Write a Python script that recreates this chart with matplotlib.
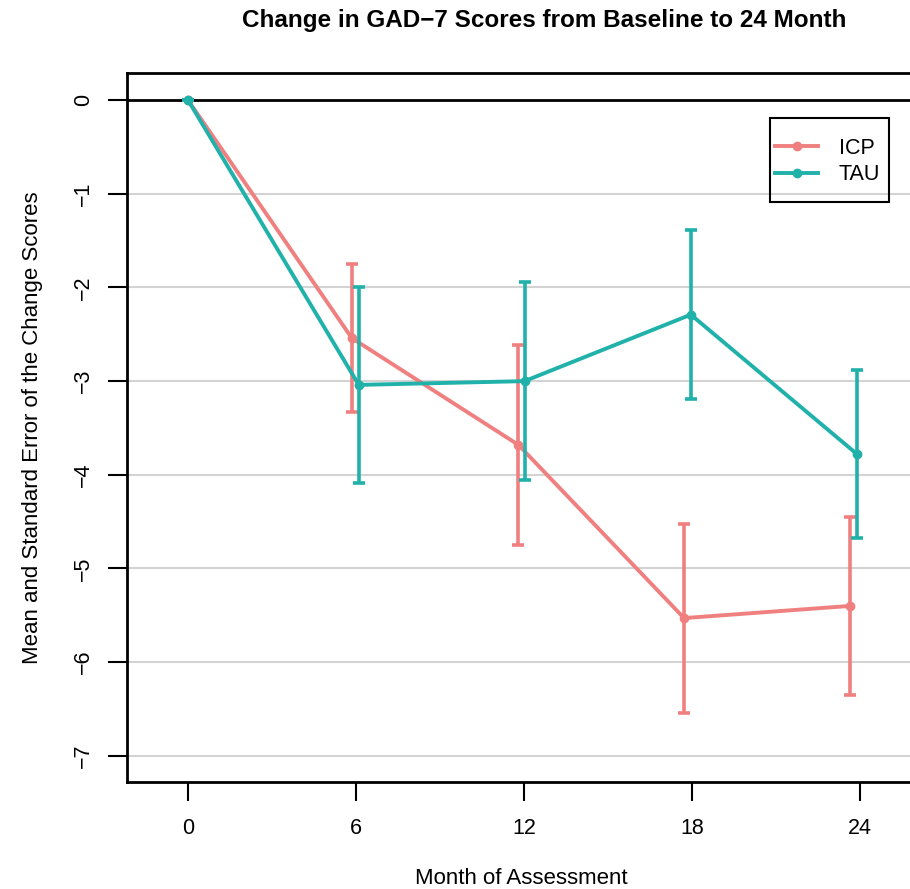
import matplotlib
matplotlib.use("Agg")
import matplotlib.pyplot as plt
from matplotlib.patches import Rectangle

plt.rcParams['font.family'] = ['Liberation Sans', 'DejaVu Sans']

# data
months = [0, 6, 12, 18, 24]
icp_x = [0, 5.85, 11.8, 17.72, 23.65]
tau_x = [0, 6.1, 12.02, 17.96, 23.9]
icp_mean = [0, -2.54, -3.68, -5.53, -5.40]
icp_se = [0, 0.79, 1.07, 1.01, 0.95]
tau_mean = [0, -3.04, -3.00, -2.29, -3.78]
tau_se = [0, 1.05, 1.06, 0.90, 0.90]

icp_col = '#F08080'
tau_col = '#20B2AA'

W, H = 910, 889
fig = plt.figure(figsize=(W/100, H/100), dpi=100)
ax = fig.add_axes([127/W, 1 - 782/H, 1 - 127/W, (782 - 73)/H])

# grid lines + zero line
for yv in range(-7, 0):
    ax.axhline(yv, color='#D3D3D3', lw=1.5, zorder=0)
ax.axhline(0, color='black', lw=2, zorder=1)

ax.errorbar(icp_x, icp_mean, yerr=icp_se, color=icp_col, lw=2.8, marker='o',
            ms=6, capsize=4, capthick=2.6, elinewidth=2.6, label='ICP', zorder=2)
ax.errorbar(tau_x, tau_mean, yerr=tau_se, color=tau_col, lw=2.8, marker='o',
            ms=6, capsize=4, capthick=2.6, elinewidth=2.6, label='TAU', zorder=3)

ax.set_xlim(-2.18, 25.79)
ax.set_ylim(-7.28, 0.29)
ax.set_xticks(months)
ax.set_yticks(range(-7, 1))
ax.set_yticklabels([str(v).replace('-', '\u2212') for v in range(-7, 1)],
                   rotation=90, va='center')
ax.tick_params(axis='x', length=14, width=1.5, pad=12, labelsize=15.5)
ax.tick_params(axis='y', length=14, width=1.5, pad=10, labelsize=15.5)

for s in ['top', 'left', 'bottom']:
    ax.spines[s].set_linewidth(2)
ax.spines['right'].set_visible(False)

fig.text(521/W, 1 - 878/H, 'Month of Assessment', ha='center', va='center',
         fontsize=16)
fig.text(33/W, 1 - 428/H, 'Mean and Standard Error of the Change Scores',
         ha='center', va='center', rotation=90, fontsize=16)
fig.text(544/W, 1 - 20/H, 'Change in GAD\u22127 Scores from Baseline to 24 Month',
         ha='center', va='center', fontsize=17.5, fontweight='bold')

# legend: R-style box drawn separately
handles, labels = ax.get_legend_handles_labels()
handles = [h[0] for h in handles]
leg = fig.legend(handles, labels, loc='upper left', bbox_to_anchor=(775/W, 1 - 138/H),
                 fontsize=15.5, frameon=False, borderpad=0, labelspacing=0.25,
                 handlelength=2.0, handletextpad=0.95, borderaxespad=0)
fig.add_artist(Rectangle((770/W, 1 - 202/H), 119/W, 84/H, transform=fig.transFigure,
                         facecolor='none', edgecolor='black', lw=1.5, zorder=5))

fig.savefig('out.png', dpi=100)
